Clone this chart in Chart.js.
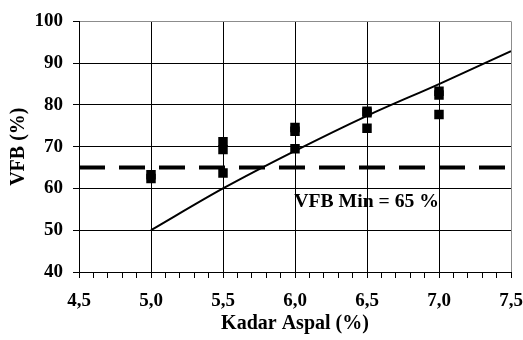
<!DOCTYPE html>
<html lang="en">
<head>
<meta charset="utf-8">
<title>VFB vs Kadar Aspal</title>
<script src="https://cdn.jsdelivr.net/npm/chart.js@4.4.1/dist/chart.umd.min.js"></script>
<style>
	html, body { margin: 0; padding: 0; background: #fff; }
	#c { display: block; }
</style>
</head>
<body>
<canvas id="c" width="523" height="340"></canvas>
<script>
// measured points (kadar aspal %, VFB %)
var testX   = [5.0, 5.0, 5.5, 5.5, 5.5, 6.0, 6.0, 6.0, 6.5, 6.5, 6.5, 7.0, 7.0, 7.0];
var testVFB = [63.3, 62.4, 71.2, 69.3, 63.7, 74.6, 73.7, 69.5, 78.5, 78.1, 74.4, 83.3, 82.4, 77.7];
// trend curve
var trendX   = [5.0, 5.5, 6.0, 6.5, 7.0, 7.5];
var trendVFB = [50, 60, 69, 77.4, 85, 92.9];
// spec line
var vfbMin = 65;
var xRange = [4.5, 7.5];
var yRange = [40, 100];
var minLabel = "VFB Min = 65 %";

var FONT = "'Liberation Serif', 'Times New Roman', serif";
var GRAY = "#8c8c8c";

function isMajor(v){
	return Math.abs(v * 2 - Math.round(v * 2)) < 1e-6;
}

var extras = {
	id: "extras",
	afterDatasetsDraw: function(chart){
		var ctx = chart.ctx, xs = chart.scales.x, ys = chart.scales.y;
		ctx.save();
		ctx.font = "bold 19.7px " + FONT;
		ctx.fillStyle = "#000";
		ctx.textAlign = "left";
		ctx.textBaseline = "middle";
		ctx.fillText(minLabel, xs.getPixelForValue(5.995), ys.getPixelForValue(56.7));
		ctx.restore();
	}
};

var points = testX.map(function(x, i){ return {x: x, y: testVFB[i]}; });
var trend = trendX.map(function(x, i){ return {x: x, y: trendVFB[i]}; });

new Chart(document.getElementById("c"), {
	type: "scatter",
	data: {
		datasets: [
			{
				label: "min",
				type: "line",
				data: [{x: xRange[0], y: vfbMin}, {x: xRange[1], y: vfbMin}],
				borderColor: "#000", borderWidth: 4, borderDash: [26, 14],
				pointRadius: 0, fill: false, order: 3
			},
			{
				label: "trend",
				type: "line",
				data: trend,
				borderColor: "#000", borderWidth: 2,
				pointRadius: 0, fill: false,
				cubicInterpolationMode: "monotone", order: 2
			},
			{
				label: "VFB",
				data: points,
				pointStyle: "rect", pointRadius: 6.7,
				backgroundColor: "#000", borderColor: "#000", borderWidth: 0, order: 1
			}
		]
	},
	options: {
		responsive: false,
		animation: false,
		devicePixelRatio: 1,
		layout: {padding: {top: 20, right: 0, left: 0, bottom: 0}},
		plugins: {legend: {display: false}, tooltip: {enabled: false}},
		scales: {
			x: {
				type: "linear", min: xRange[0], max: xRange[1],
				afterFit: function(s){ s.height = 68; s.paddingLeft = 0; s.paddingRight = 12; },
				border: {color: "#000", width: 1},
				grid: {
					color: function(c){
						if(!c.tick || !isMajor(c.tick.value)) return "rgba(0,0,0,0)";
						return Math.abs(c.tick.value - xRange[1]) < 1e-6 ? GRAY : "#000";
					},
					tickColor: "#000", tickLength: 6, lineWidth: 1
				},
				ticks: {
					stepSize: 0.1, autoSkip: false, maxRotation: 0, maxTicksLimit: 100,
					padding: 12, color: "#000",
					font: {family: FONT, size: 19, weight: "bold"},
					callback: function(v){ return isMajor(v) ? v.toFixed(1).replace(".", ",") : ""; }
				},
				title: {
					display: true, text: "Kadar Aspal (%)", color: "#000",
					font: {family: FONT, size: 20, weight: "bold"},
					padding: {top: 0, bottom: 4}
				}
			},
			y: {
				type: "linear", min: yRange[0], max: yRange[1],
				afterFit: function(s){ s.width = 79; },
				border: {color: "#000", width: 1},
				grid: {
					color: function(c){
						return c.tick && c.tick.value === yRange[1] ? GRAY : "#000";
					},
					tickColor: "#000", tickLength: 6, lineWidth: 1
				},
				ticks: {
					stepSize: 10, padding: 10, color: "#000",
					font: {family: FONT, size: 19, weight: "bold"}
				},
				title: {
					display: true, text: "VFB (%)", color: "#000",
					font: {family: FONT, size: 20, weight: "bold"},
					padding: {top: 7, bottom: 0}
				}
			}
		}
	},
	plugins: [extras]
});
</script>
</body>
</html>
